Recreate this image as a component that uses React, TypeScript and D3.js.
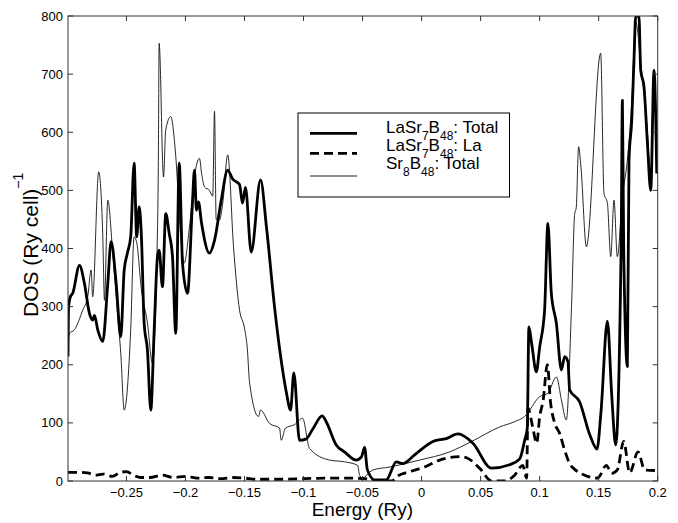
import React from 'react';
import * as d3 from 'd3';

// LaSr7B48: Total
const totalE = [-0.2995, -0.2990, -0.2975, -0.2955, -0.2898, -0.2856, -0.2814, -0.2786, -0.2771, -0.2743, -0.2701, -0.2658, -0.2630, -0.2587, -0.2548, -0.2519, -0.2492, -0.2464, -0.2435, -0.2413, -0.2392, -0.2373, -0.2350, -0.2322, -0.2294, -0.2265, -0.2237, -0.2223, -0.2195, -0.2167, -0.2138, -0.2110, -0.2082, -0.2053, -0.2025, -0.1983, -0.1941, -0.1924, -0.1907, -0.1890, -0.1864, -0.1797, -0.1754, -0.1697, -0.1642, -0.1602, -0.1542, -0.1517, -0.1492, -0.1443, -0.1364, -0.1314, -0.1246, -0.1186, -0.1144, -0.1110, -0.1082, -0.1034, -0.0980, -0.0920, -0.0842, -0.0808, -0.0723, -0.0653, -0.0553, -0.0508, -0.0483, -0.0460, -0.0398, -0.0299, -0.0214, -0.0161, -0.0059, 0.0096, 0.0209, 0.0308, 0.0435, 0.0591, 0.0746, 0.0831, 0.0873, 0.0895, 0.0909, 0.0932, 0.0972, 0.1000, 0.1042, 0.1070, 0.1099, 0.1142, 0.1184, 0.1212, 0.1240, 0.1254, 0.1339, 0.1424, 0.1486, 0.1520, 0.1574, 0.1610, 0.1644, 0.1690, 0.1701, 0.1712, 0.1743, 0.1757, 0.1780, 0.1799, 0.1814, 0.1841, 0.1856, 0.1884, 0.1913, 0.1941, 0.1969, 0.1992];
const totalDos = [214, 300, 317, 323, 371, 340, 289, 277, 285, 260, 240, 340, 412, 340, 248, 363, 392, 420, 547, 420, 472, 420, 272, 225, 122, 260, 386, 397, 334, 460, 426, 386, 254, 547, 375, 323, 478, 535, 466, 480, 444, 392, 414, 483, 535, 520, 510, 478, 505, 394, 518, 437, 300, 203, 151, 122, 186, 70, 72, 90, 112, 102, 62, 50, 36, 42, 58, 20, 2, 2, 33, 30, 45, 68, 73, 81, 65, 22, 28, 38, 70, 90, 265, 237, 188, 230, 294, 443, 323, 271, 191, 214, 205, 157, 136, 80, 55, 120, 275, 150, 62, 400, 655, 400, 197, 552, 620, 724, 800, 800, 707, 678, 581, 500, 707, 529];

// LaSr7B48: La
const laE = [-0.2995, -0.2900, -0.2830, -0.2760, -0.2700, -0.2620, -0.2550, -0.2500, -0.2440, -0.2380, -0.2300, -0.2200, -0.2100, -0.2000, -0.1900, -0.1800, -0.1700, -0.1600, -0.1500, -0.1400, -0.1200, -0.1000, -0.0800, -0.0600, -0.0480, -0.0400, -0.0250, -0.0214, -0.0102, 0.0025, 0.0153, 0.0322, 0.0381, 0.0492, 0.0593, 0.0703, 0.0788, 0.0856, 0.0890, 0.0901, 0.0941, 0.0975, 0.1000, 0.1030, 0.1065, 0.1093, 0.1127, 0.1169, 0.1212, 0.1254, 0.1297, 0.1381, 0.1486, 0.1503, 0.1565, 0.1610, 0.1658, 0.1712, 0.1763, 0.1833, 0.1890, 0.1992];
const laDos = [15, 15, 14, 10, 12, 8, 15, 16, 10, 6, 6, 10, 6, 8, 5, 6, 4, 6, 5, 3, 3, 4, 5, 5, 4, 0, 0, 7, 16, 24, 36, 42, 40, 22, 0, 0, 10, 27, 5, 125, 93, 65, 110, 139, 200, 134, 100, 82, 53, 30, 20, 10, 5, 7, 27, 13, 19, 68, 14, 50, 19, 18];

// Sr8B48: Total
const srE = [-0.2995, -0.2983, -0.2941, -0.2870, -0.2828, -0.2799, -0.2786, -0.2735, -0.2701, -0.2686, -0.2658, -0.2616, -0.2576, -0.2548, -0.2519, -0.2464, -0.2435, -0.2413, -0.2373, -0.2322, -0.2280, -0.2237, -0.2230, -0.2223, -0.2186, -0.2167, -0.2125, -0.2082, -0.2040, -0.2011, -0.1969, -0.1941, -0.1924, -0.1881, -0.1864, -0.1839, -0.1797, -0.1769, -0.1754, -0.1740, -0.1712, -0.1684, -0.1642, -0.1593, -0.1542, -0.1500, -0.1475, -0.1458, -0.1381, -0.1364, -0.1288, -0.1203, -0.1189, -0.1153, -0.1076, -0.1008, -0.0949, -0.0780, -0.0653, -0.0542, -0.0525, -0.0500, -0.0441, -0.0413, -0.0271, -0.0017, 0.0237, 0.0424, 0.0661, 0.0788, 0.0873, 0.1000, 0.1070, 0.1142, 0.1184, 0.1226, 0.1270, 0.1297, 0.1310, 0.1330, 0.1350, 0.1396, 0.1517, 0.1545, 0.1574, 0.1602, 0.1630, 0.1658, 0.1701, 0.1743, 0.1780, 0.1814, 0.1856, 0.1913, 0.1941, 0.1969, 0.1992];
const srDos = [240, 254, 260, 294, 317, 363, 317, 532, 426, 311, 483, 392, 289, 220, 122, 260, 420, 410, 329, 272, 203, 432, 540, 753, 523, 604, 627, 558, 420, 375, 432, 489, 523, 555, 530, 506, 500, 490, 636, 450, 449, 478, 561, 403, 294, 263, 225, 171, 111, 122, 99, 91, 70, 91, 97, 108, 56, 36, 33, 27, 10, 5, 15, 19, 24, 36, 50, 68, 93, 102, 111, 145, 151, 179, 140, 105, 300, 460, 470, 575, 540, 403, 736, 495, 478, 386, 483, 386, 489, 552, 650, 790, 720, 600, 520, 680, 560];

const X_DOMAIN = [-0.2995, 0.2];
const Y_DOMAIN = [0, 800];
const xTicks = [-0.25, -0.2, -0.15, -0.1, -0.05, 0, 0.05, 0.1, 0.15, 0.2];
const xTickLabels = ['\u22120.25', '\u22120.2', '\u22120.15', '\u22120.1', '\u22120.05', '0', '0.05', '0.1', '0.15', '0.2'];
const yTicks = [0, 100, 200, 300, 400, 500, 600, 700, 800];

const FONT = '"Liberation Sans", Arial, Helvetica, sans-serif';

export default function App() {
  const W = 678, H = 523;
  const L = 68, R = 657.7, T = 16, B = 481;
  const x = d3.scaleLinear().domain(X_DOMAIN).range([L, R]);
  const y = d3.scaleLinear().domain(Y_DOMAIN).range([B, T]);
  const line = d3.line<[number, number]>()
    .x(d => x(d[0]))
    .y(d => y(d[1]))
    .curve(d3.curveMonotoneX);
  const pTotal = line(d3.zip(totalE, totalDos) as [number, number][]) || '';
  const pLa = line(d3.zip(laE, laDos) as [number, number][]) || '';
  const pSr = line(d3.zip(srE, srDos) as [number, number][]) || '';
  const tick = 5;
  const axisColor = '#333';
  const sub = 12;
  const sh = 7;

  return (
    <svg width={W} height={H} style={{ position: 'absolute', left: 0, top: 0, background: '#fff' }} fontFamily={FONT}>
      <rect x={0} y={0} width={W} height={H} fill="#fff" />
      <defs>
        <clipPath id="plotClip">
          <rect x={L} y={T} width={R - L} height={B - T} />
        </clipPath>
      </defs>
      <g clipPath="url(#plotClip)" fill="none" stroke="#000" strokeLinejoin="round">
        <path d={pSr} strokeWidth={0.9} stroke="#111" />
        <path d={pLa} strokeWidth={2.8} strokeDasharray="9,5" />
        <path d={pTotal} strokeWidth={2.8} />
      </g>
      <rect x={L} y={T} width={R - L} height={B - T} fill="none" stroke={axisColor} strokeWidth={1} />
      {xTicks.map((t, i) => (
        <g key={'xt' + i}>
          <line x1={x(t)} x2={x(t)} y1={B} y2={B - tick} stroke={axisColor} />
          <line x1={x(t)} x2={x(t)} y1={T} y2={T + tick} stroke={axisColor} />
          <text x={x(t)} y={497} textAnchor="middle" fontSize={13} fill="#000">{xTickLabels[i]}</text>
        </g>
      ))}
      {yTicks.map((t, i) => (
        <g key={'yt' + i}>
          <line x1={L} x2={L + tick} y1={y(t)} y2={y(t)} stroke={axisColor} />
          <line x1={R} x2={R - tick} y1={y(t)} y2={y(t)} stroke={axisColor} />
          <text x={63} y={y(t)} dy="0.35em" textAnchor="end" fontSize={13} fill="#000">{t}</text>
        </g>
      ))}
      <text x={(L + R) / 2 - 0.5} y={516} textAnchor="middle" fontSize={19} fill="#000">Energy (Ry)</text>
      <text transform="translate(38,317) rotate(-90)" x={0} y={0} textAnchor="start" fontSize={21} fill="#000">
        DOS (Ry cell)<tspan dy={-15} fontSize={14}>{'\u22121'}</tspan>
      </text>
      <rect x={298} y={113} width={211.5} height={84} fill="#fff" stroke="#000" strokeWidth={1} />
      <line x1={310} x2={357} y1={133.3} y2={133.3} stroke="#000" strokeWidth={2.8} />
      <line x1={310} x2={357} y1={153.3} y2={153.3} stroke="#000" strokeWidth={2.8} strokeDasharray="9,5" />
      <line x1={310} x2={357} y1={176} y2={176} stroke="#000" strokeWidth={0.9} />
      <g fontSize={17} fill="#000">
        <text x={386} y={133}>LaSr<tspan dy={sh} fontSize={sub}>7</tspan><tspan dy={-sh}>B</tspan><tspan dy={sh} fontSize={sub}>48</tspan><tspan dy={-sh}>: Total</tspan></text>
        <text x={386} y={150.5}>LaSr<tspan dy={sh} fontSize={sub}>7</tspan><tspan dy={-sh}>B</tspan><tspan dy={sh} fontSize={sub}>48</tspan><tspan dy={-sh}>: La</tspan></text>
        <text x={386} y={168.5}>Sr<tspan dy={sh} fontSize={sub}>8</tspan><tspan dy={-sh}>B</tspan><tspan dy={sh} fontSize={sub}>48</tspan><tspan dy={-sh}>: Total</tspan></text>
      </g>
    </svg>
  );
}
